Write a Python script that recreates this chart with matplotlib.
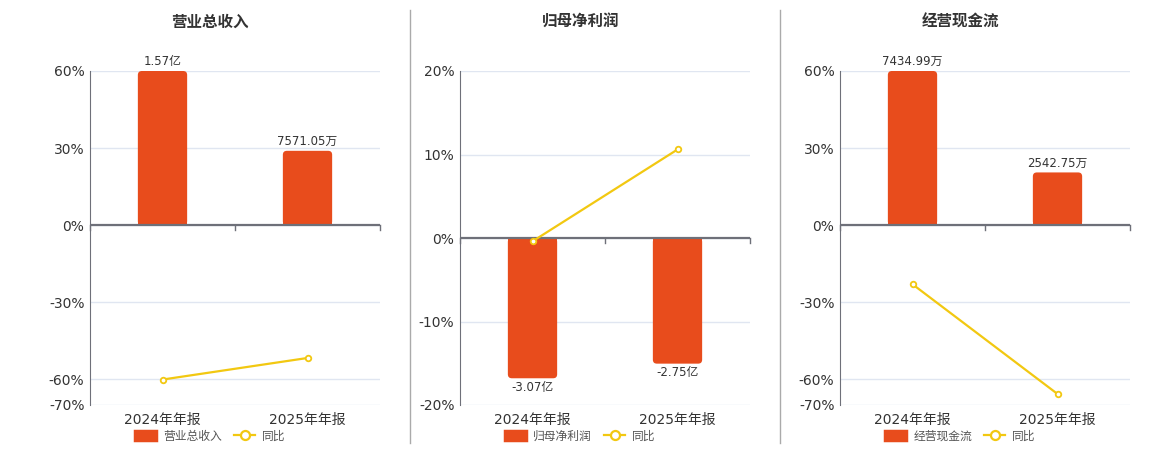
import matplotlib

matplotlib.use("Agg")
import matplotlib.pyplot as plt
from matplotlib.lines import Line2D
from matplotlib.patches import FancyBboxPatch, Patch

plt.rcParams["font.family"] = ["DejaVu Sans", "Noto Sans CJK SC"]

# ---- data ----
periods = ["2024年年报", "2025年年报"]

titles = ["营业总收入", "归母净利润", "经营现金流"]

# bar values in 亿元 and their printed labels
revenue = [1.57, 0.757105]
revenue_labels = ["1.57亿", "7571.05万"]
profit = [-3.07, -2.75]
profit_labels = ["-3.07亿", "-2.75亿"]
cashflow = [0.743499, 0.254275]
cashflow_labels = ["7434.99万", "2542.75万"]

# year-on-year change, %
revenue_yoy = [-60.1, -51.7]
profit_yoy = [-0.4, 10.6]
cashflow_yoy = [-23.0, -65.7]

# percent axis ticks
ticks_a = [-70, -60, -30, 0, 30, 60]
ticks_b = [-20, -10, 0, 10, 20]

# ---- style ----
BAR = "#E84C1C"
LINE = "#F2C811"
GRID = "#E0E6F1"
AXIS = "#6E7079"
TEXT = "#333333"

W, H = 1160, 450
AX_W, AX_H = 290, 334
AX_BOTTOM = 45
LEFTS = [90, 460, 840]
SEPARATORS = [410, 780]
RADIUS_PX = 4


def round_bar_ends(ax, bars, n_cat, y_span):
    """Round the far end of each bar; the end on the zero line stays square."""
    x_per_px = n_cat / AX_W
    y_per_px = y_span / AX_H
    r = RADIUS_PX * x_per_px
    for rect in bars:
        x0, w = rect.get_x(), rect.get_width()
        y, h = rect.get_y(), rect.get_height()
        y0, hh = min(y, y + h), abs(h)
        ax.add_patch(FancyBboxPatch((x0, y0), w, hh,
                                    boxstyle=f"round,pad=0,rounding_size={r}",
                                    mutation_aspect=y_per_px / x_per_px,
                                    facecolor=BAR, edgecolor="none"))
        rect.set_height(h / 2)


def draw_panel(left, title, values, labels, yoy, ticks, bar_full):
    """One panel: bars on a hidden twin scale, yoy line on the percent scale."""
    ax = fig.add_axes([left / W, AX_BOTTOM / H, AX_W / W, AX_H / H])
    lo, hi = ticks[0], ticks[-1]
    x = list(range(len(periods)))

    # base axes: grid + percent ticks
    ax.set_ylim(lo, hi)
    ax.set_xlim(-0.5, len(periods) - 0.5)
    ax.set_yticks(ticks)
    ax.set_yticklabels([f"{t}%" for t in ticks])
    ax.grid(axis="y", color=GRID, linewidth=1)
    ax.set_axisbelow(True)
    ax.tick_params(axis="y", length=0, pad=4, labelsize=10, labelcolor=TEXT)
    for s in ["top", "right", "bottom"]:
        ax.spines[s].set_visible(False)
    ax.spines["left"].set_color(AXIS)
    ax.set_xticks([])

    # bars on their own scale, zero aligned with 0%
    ax_bar = ax.twinx()
    k = bar_full / hi
    ax_bar.set_ylim(lo * k, hi * k)
    ax_bar.set_xlim(ax.get_xlim())
    bars = ax_bar.bar(x, values, width=0.34, color=BAR)
    ax_bar.bar_label(bars, labels=labels, padding=2, fontsize=8.5, color=TEXT)
    round_bar_ends(ax_bar, bars, len(periods), (hi - lo) * k)
    ax_bar.axis("off")

    # yoy line on top
    ax_line = ax.twinx()
    ax_line.set_ylim(lo, hi)
    ax_line.set_xlim(ax.get_xlim())
    ax_line.axhline(0, color=AXIS, linewidth=1.6)
    ax_line.plot(x, yoy, color=LINE, linewidth=1.6, marker="o", markersize=4,
                 markerfacecolor="white", markeredgecolor=LINE, markeredgewidth=1.3)
    ax_line.axis("off")

    # category boundary ticks hanging from the zero line
    for b in [-0.5, 0.5, len(periods) - 0.5]:
        ax_line.plot([b, b], [0, -(hi - lo) * 0.015], color=AXIS, linewidth=1, clip_on=False)

    trans = ax.get_xaxis_transform()
    for xi, p in zip(x, periods):
        ax.text(xi, -0.045, p, transform=trans, ha="center", va="center",
                fontsize=10, color=TEXT)

    ax.text(0.415, 1.147, title, transform=ax.transAxes, ha="center", va="center",
            fontsize=11.2, fontweight="bold", color=TEXT)

    handles = [
        Patch(facecolor=BAR, edgecolor=BAR, linewidth=2.5, joinstyle="round"),
        Line2D([], [], color=LINE, linewidth=1.6, marker="o", markersize=6.5,
               markerfacecolor="white", markeredgecolor=LINE, markeredgewidth=1.6),
    ]
    ax.legend(handles, [title, "同比"], loc="center", bbox_to_anchor=(0.415, -0.093),
              ncol=2, frameon=False, fontsize=8.5, handlelength=1.8, handleheight=0.85,
              columnspacing=1.0, handletextpad=0.6, labelcolor="#555555")


fig = plt.figure(figsize=(W / 100, H / 100), dpi=100)

draw_panel(LEFTS[0], titles[0], revenue, revenue_labels, revenue_yoy, ticks_a, bar_full=1.57)
draw_panel(LEFTS[1], titles[1], profit, profit_labels, profit_yoy, ticks_b, bar_full=3.655)
draw_panel(LEFTS[2], titles[2], cashflow, cashflow_labels, cashflow_yoy, ticks_a, bar_full=0.743499)

for sx in SEPARATORS:
    fig.add_artist(Line2D([sx / W, sx / W], [1 - 10 / H, 1 - 443 / H],
                          transform=fig.transFigure, color="#AAAAAA", linewidth=1))

fig.savefig("out.png", dpi=100)
